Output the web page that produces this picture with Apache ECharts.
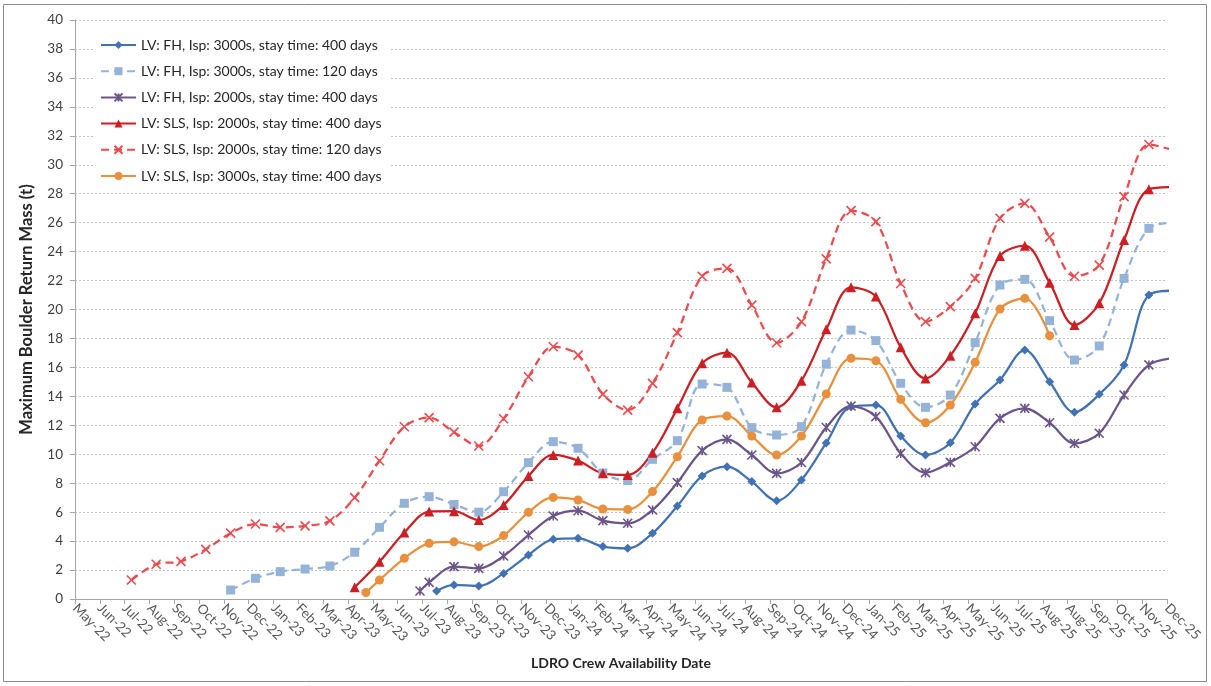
<!DOCTYPE html>
<html>
<head>
<meta charset="utf-8">
<script src="https://cdn.jsdelivr.net/npm/echarts@6/dist/echarts.min.js"></script>
<style>
  html, body { margin: 0; padding: 0; background: #ffffff; }
  #chart { width: 1211px; height: 686px; }
</style>
</head>
<body>
<div id="chart"></div>
<script>
// Axis tick labels: one tick every 30 days, so August 2025 gets two ticks
const tickLabels = [
  'May-22', 'Jun-22', 'Jul-22', 'Aug-22', 'Sep-22', 'Oct-22', 'Nov-22', 'Dec-22',
  'Jan-23', 'Feb-23', 'Mar-23', 'Apr-23', 'May-23', 'Jun-23', 'Jul-23', 'Aug-23',
  'Sep-23', 'Oct-23', 'Nov-23', 'Dec-23', 'Jan-24', 'Feb-24', 'Mar-24', 'Apr-24',
  'May-24', 'Jun-24', 'Jul-24', 'Aug-24', 'Sep-24', 'Oct-24', 'Nov-24', 'Dec-24',
  'Jan-25', 'Feb-25', 'Mar-25', 'Apr-25', 'May-25', 'Jun-25', 'Jul-25', 'Aug-25',
  'Aug-25', 'Sep-25', 'Oct-25', 'Nov-25', 'Dec-25'
];

// Monthly availability samples: sample k lies at axis position firstSample + k
const firstSample = 2.27;

const seriesNames = [
  'LV: FH, Isp: 3000s, stay time: 400 days',
  'LV: FH, Isp: 3000s, stay time: 120 days',
  'LV: FH, Isp: 2000s, stay time: 400 days',
  'LV: SLS, Isp: 2000s, stay time: 400 days',
  'LV: SLS, Isp: 2000s, stay time: 120 days',
  'LV: SLS, Isp: 3000s, stay time: 400 days'
];

// Maximum boulder return mass (t) per sample
const fh3000Stay400Start = 13;
const fh3000Stay400First = [14.57, 0.55];
const fh3000Stay400 = [0.97, 0.90, 1.77, 3.04, 4.12, 4.19, 3.62, 3.50, 4.54, 6.42,
  8.50, 9.14, 8.11, 6.79, 8.22, 10.78, 13.29, 13.40, 11.26, 9.95,
  10.80, 13.47, 15.13, 17.20, 15.01, 12.90, 14.14, 16.17, 21.00, 21.30];

const fh3000Stay120Start = 4;
const fh3000Stay120 = [0.62, 1.43, 1.89, 2.07, 2.28, 3.23, 4.95, 6.61, 7.07, 6.53,
  6.00, 7.41, 9.42, 10.87, 10.41, 8.70, 8.18, 9.65, 10.94, 14.85,
  14.62, 11.84, 11.33, 11.91, 16.22, 18.58, 17.85, 14.90, 13.24, 14.09,
  17.71, 21.69, 22.08, 19.23, 16.51, 17.48, 22.15, 25.61, 26.00];

const fh2000Stay400Start = 12;
const fh2000Stay400First = [13.90, 0.55];
const fh2000Stay400 = [1.15, 2.24, 2.12, 2.97, 4.42, 5.73, 6.10, 5.41, 5.23, 6.15,
  8.04, 10.25, 11.03, 9.95, 8.68, 9.43, 11.85, 13.33, 12.60, 10.06,
  8.73, 9.44, 10.52, 12.48, 13.17, 12.18, 10.75, 11.45, 14.09, 16.17, 16.65];

const sls2000Stay400Start = 9;
const sls2000Stay400 = [0.81, 2.58, 4.59, 6.04, 6.07, 5.46, 6.49, 8.50, 9.95, 9.56,
  8.68, 8.57, 10.11, 13.17, 16.28, 17.02, 14.95, 13.24, 15.08, 18.63,
  21.53, 20.89, 17.39, 15.24, 16.81, 19.74, 23.70, 24.41, 21.85, 18.93,
  20.43, 24.80, 28.30, 28.45];

const sls2000Stay120Start = 0;
const sls2000Stay120 = [1.31, 2.40, 2.60, 3.43, 4.55, 5.18, 4.95, 5.05, 5.40, 7.00,
  9.55, 11.90, 12.53, 11.53, 10.57, 12.45, 15.35, 17.43, 16.85, 14.15,
  13.05, 14.90, 18.40, 22.30, 22.84, 20.30, 17.70, 19.16, 23.50, 26.83,
  26.07, 21.80, 19.16, 20.20, 22.15, 26.30, 27.33, 25.00, 22.30, 23.07,
  27.80, 31.40, 31.00];

const sls3000Stay400Start = 10;
const sls3000Stay400First = [11.72, 0.45];
const sls3000Stay400 = [1.31, 2.81, 3.85, 3.95, 3.62, 4.38, 5.99, 7.02, 6.84, 6.22,
  6.19, 7.42, 9.83, 12.37, 12.64, 11.26, 9.95, 11.26, 14.16, 16.63,
  16.46, 13.79, 12.18, 13.40, 16.35, 20.03, 20.77, 18.19];

const yTicks = { min: 0, max: 40, step: 2 };

// Build [axisPosition, value] pairs; an optional lead point marks the earliest date
function toPoints(start, values, lead) {
  const pts = lead ? [lead.slice()] : [];
  values.forEach(function (v, i) { pts.push([firstSample + start + i, v]); });
  return pts;
}

const FONT = 'Lato, "Open Sans", sans-serif';
const starPath = 'path://M0,0L10,10M10,0L0,10M5,0L5,10';
const crossPath = 'path://M0,0L10,10M10,0L0,10';

function lineSeries(name, data, color, symbol, symbolSize, dashed, strokeSymbol) {
  return {
    name: name,
    type: 'line',
    data: data,
    smooth: 0.34,
    clip: true,
    symbol: symbol,
    symbolSize: symbolSize,
    showSymbol: true,
    lineStyle: { color: color, width: 2.25, type: dashed ? [8, 5] : 'solid' },
    itemStyle: strokeSymbol
      ? { color: color, borderColor: color, borderWidth: 1.6 }
      : { color: color, borderWidth: 0 },
    emphasis: { disabled: true },
    z: 2
  };
}

const chart = echarts.init(document.getElementById('chart'), null, { renderer: 'canvas' });

chart.setOption({
  animation: false,
  backgroundColor: '#ffffff',
  textStyle: { fontFamily: FONT },
  grid: { left: 75, right: 44, top: 20, bottom: 87, containLabel: false, outerBoundsMode: 'none' },
  graphic: [{
    type: 'rect',
    shape: { x: 3.5, y: 4.5, width: 1203, height: 677 },
    style: { fill: 'none', stroke: '#8c8c8c', lineWidth: 1 },
    silent: true,
    z: -10
  }],
  legend: {
    orient: 'vertical',
    left: 94,
    top: 33,
    padding: [4, 8, 4, 6],
    backgroundColor: '#ffffff',
    itemWidth: 35,
    itemHeight: 10,
    itemGap: 10.2,
    data: seriesNames,
    textStyle: { fontFamily: FONT, fontSize: 14, color: '#262626', lineHeight: 16 }
  },
  xAxis: {
    type: 'value',
    min: 0,
    max: tickLabels.length - 1,
    interval: 1,
    name: 'LDRO Crew Availability Date',
    nameLocation: 'middle',
    nameGap: 57,
    nameTextStyle: { fontFamily: FONT, fontSize: 14, fontWeight: 'bold', color: '#262626' },
    axisLine: { show: true, onZero: false, lineStyle: { color: '#a6a6a6', width: 1 } },
    axisTick: { show: true, length: 5, lineStyle: { color: '#a6a6a6' } },
    splitLine: { show: false },
    axisLabel: {
      rotate: -45,
      margin: 7,
      fontFamily: FONT,
      fontSize: 13.5,
      color: '#595959',
      showMinLabel: true,
      showMaxLabel: true,
      formatter: function (v) { return tickLabels[Math.round(v)] || ''; }
    }
  },
  yAxis: {
    type: 'value',
    min: yTicks.min,
    max: yTicks.max,
    interval: yTicks.step,
    name: 'Maximum Boulder Return Mass (t)',
    nameLocation: 'middle',
    nameGap: 40,
    nameTextStyle: { fontFamily: FONT, fontSize: 16.5, fontWeight: 'bold', color: '#262626' },
    axisLine: { show: true, lineStyle: { color: '#a6a6a6', width: 1 } },
    axisTick: { show: true, length: 5, lineStyle: { color: '#a6a6a6' } },
    splitLine: { show: true, lineStyle: { color: '#c4c4c4', width: 1, type: [2, 2] } },
    axisLabel: { margin: 12, fontFamily: FONT, fontSize: 13.5, color: '#404040' }
  },
  series: [
    lineSeries(seriesNames[0], toPoints(fh3000Stay400Start, fh3000Stay400, fh3000Stay400First),
      '#4272b4', 'diamond', 9, false, false),
    lineSeries(seriesNames[1], toPoints(fh3000Stay120Start, fh3000Stay120),
      '#95b3d7', 'rect', 9, true, false),
    lineSeries(seriesNames[2], toPoints(fh2000Stay400Start, fh2000Stay400, fh2000Stay400First),
      '#6a5689', starPath, 9, false, true),
    lineSeries(seriesNames[3], toPoints(sls2000Stay400Start, sls2000Stay400),
      '#cc1f24', 'triangle', 10, false, false),
    lineSeries(seriesNames[4], toPoints(sls2000Stay120Start, sls2000Stay120),
      '#ec4a4d', crossPath, 9, true, true),
    lineSeries(seriesNames[5], toPoints(sls3000Stay400Start, sls3000Stay400, sls3000Stay400First),
      '#e8903d', 'circle', 9, false, false)
  ]
});
</script>
</body>
</html>
